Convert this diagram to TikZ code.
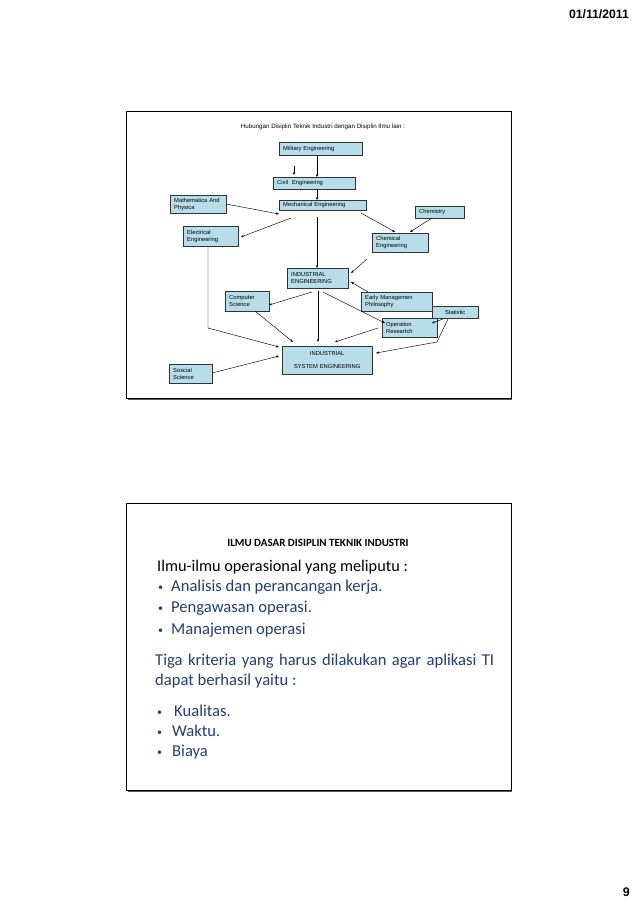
\documentclass[tikz,border=0pt]{standalone}
\usepackage{fontspec}
\setmainfont{Liberation Sans}
\newfontfamily\calfont{Carlito}
\usetikzlibrary{arrows.meta}
\definecolor{boxfill}{RGB}{183,221,232}
\definecolor{txtblue}{RGB}{36,64,110}
\definecolor{framegray}{RGB}{90,90,90}
\newcommand\bu[1]{\makebox[#1][l]{\raisebox{1pt}{\fontsize{10}{10}\selectfont\textbullet}}}
\tikzset{
  box/.style={draw=black!80, line width=0.4pt, fill=boxfill, anchor=north west,
    inner xsep=4pt, inner ysep=1pt, align=left, font=\fontsize{5.8}{7}\selectfont},
  conn/.style={draw=black, line width=0.45pt, -{Stealth[length=3pt,width=2.4pt]}},
  frame/.style={draw=black, line width=0.7pt},
  bul/.style={anchor=base west, text=txtblue, font=\calfont\fontsize{16.6}{18}\selectfont, inner sep=0pt},
}
\begin{document}
\begin{tikzpicture}[x=1pt,y=-1pt]
\useasboundingbox (0,0) rectangle (638,903);
\fill[white] (0,0) rectangle (638,903);
% header and page number
\node[anchor=east, font=\bfseries\fontsize{12.2}{14}\selectfont, inner sep=0pt] (date) at (629,14) {01/11/2011};
\node[anchor=east, font=\bfseries\fontsize{12.5}{14}\selectfont, inner sep=0pt] (page) at (630,892) {9};
% slide frames
\draw[framegray, line width=1.6pt] (127.5,399) -- (511.5,399) -- (511.5,112);
\draw[frame] (126,111) rectangle (511,398.5);
\draw[framegray, line width=1.6pt] (127.5,791) -- (511.5,791) -- (511.5,504);
\draw[frame] (126,503) rectangle (511,790.5);
% ---------- slide 1 ----------
\node[font=\fontsize{6.2}{7}\selectfont, inner sep=0pt] (title) at (323,127) {Hubungan Disiplin Teknik Industri dengan Disiplin Ilmu lain :};
\node[box, text width=75pt, minimum height=13pt] (mil) at (279,142) {Military Engineering};
\node[box, text width=74pt, minimum height=12pt] (civ) at (273,177) {Civil\ \ Engineering};
\node[box, text width=79pt, minimum height=10pt, inner ysep=0pt] (mec) at (279,200) {Mechanical Engineering};
\node[box, text width=48pt, minimum height=18pt] (mat) at (170,195) {Mathematica And\\Physica};
\node[box, text width=41pt, minimum height=12pt] (chem) at (415,206) {Chemistry};
\node[box, text width=47pt, minimum height=20pt] (ele) at (183,226) {Electrical\\Engineering};
\node[box, text width=48pt, minimum height=19pt] (chm) at (372,233) {Chemical\\Engineering};
\node[box, text width=53pt, minimum height=20pt] (ie) at (287,268) {INDUSTRIAL\\ENGINEERING};
\node[box, text width=36pt, minimum height=20pt] (cs) at (225,291) {Computer\\Science};
\node[box, text width=63pt, minimum height=19pt] (emp) at (361,292) {Early Managemen\\Philosophy};
\node[box, text width=46pt, minimum height=12pt, inner xsep=0pt, align=center] (sta) at (432,306) {Statistic};
\node[box, text width=47pt, minimum height=19pt] (opr) at (382,318) {Operation\\Researtch};
\node[box, text width=82pt, minimum height=28pt, align=center, font=\fontsize{5.8}{12.5}\selectfont] (ise) at (282,346) {INDUSTRIAL\\SYSTEM ENGINEERING};
\node[box, text width=35pt, minimum height=19pt] (soc) at (169,364) {Soscial\\Science};
% free end points
\coordinate (f1) at (294,166);
\coordinate (f2) at (294,175);
\coordinate (pmil) at (317,155);
\coordinate (pciv) at (317,177);
\coordinate (pciv2) at (317,189);
\coordinate (pmec) at (317,200);
\coordinate (pmat) at (226,204);
\coordinate (tmat) at (279,214);
\coordinate (smecl) at (291,218);
\coordinate (tele) at (241,237);
\coordinate (smecr) at (361,213);
\coordinate (tchm) at (395,232);
\coordinate (schem) at (432,218);
\coordinate (tchm2) at (410,232);
\coordinate (smecc) at (317,217);
\coordinate (tie) at (317,268);
\coordinate (schm) at (367,259);
\coordinate (tie2) at (351,273);
\coordinate (semp) at (368,292);
\coordinate (tie3) at (351,282);
\coordinate (siel) at (312,292);
\coordinate (tcs) at (269,305);
\coordinate (siec) at (318,291);
\coordinate (tise) at (318,342);
\coordinate (sier) at (323,292);
\coordinate (topr) at (385,323);
\coordinate (scs) at (255,311);
\coordinate (tise2) at (293,342);
\coordinate (ssta) at (443,319);
\coordinate (topr2) at (432,323);
\coordinate (ssta2) at (448,319);
\coordinate (bsta) at (437,342);
\coordinate (tise3) at (376,353);
\coordinate (sopr) at (378,328);
\coordinate (tise4) at (335,342);
\coordinate (sele) at (208,246);
\coordinate (bele) at (208,328);
\coordinate (tise5) at (279,347);
\coordinate (ssoc) at (212,373);
\coordinate (tise6) at (279,356);
% connectors
\draw[conn] (f1) -- (f2);
\draw[conn] (pmil) -- (pciv);
\draw[conn] (pciv2) -- (pmec);
\draw[conn] (pmat) -- (tmat);
\draw[conn] (smecl) -- (tele);
\draw[conn] (smecr) -- (tchm);
\draw[conn] (schem) -- (tchm2);
\draw[conn] (smecc) -- (tie);
\draw[conn] (schm) -- (tie2);
\draw[conn] (semp) -- (tie3);
\draw[conn] (siel) -- (tcs);
\draw[conn] (siec) -- (tise);
\draw[conn] (sier) -- (topr);
\draw[conn] (scs) -- (tise2);
\draw[conn] (ssta) -- (topr2);
\draw[conn] (ssta2) -- (bsta) -- (tise3);
\draw[conn] (sopr) -- (tise4);
\draw[conn] (sele) -- (bele) -- (tise5);
\draw[conn] (ssoc) -- (tise6);
% ---------- slide 2 ----------
\node[font=\calfont\bfseries\fontsize{11}{12}\selectfont, inner sep=0pt] (t2) at (318,543) {ILMU DASAR DISIPLIN TEKNIK INDUSTRI};
\node[anchor=base west, font=\calfont\fontsize{16.3}{18}\selectfont, inner sep=0pt] (l0) at (157,571) {Ilmu-ilmu operasional yang meliputu :};
\node[bul] (b1) at (158,591) {\bu{13pt}Analisis dan perancangan kerja.};
\node[bul] (b2) at (158,612) {\bu{13pt}Pengawasan operasi.};
\node[bul] (b3) at (158,634) {\bu{13pt}Manajemen operasi};
\node[bul] (l1) at (155,665) {\makebox[339pt][s]{Tiga kriteria yang harus dilakukan agar aplikasi TI}};
\node[bul] (l2) at (155,685) {dapat berhasil yaitu :};
\node[bul] (b4) at (157,716) {\bu{17pt}Kualitas.};
\node[bul] (b5) at (157,736) {\bu{15pt}Waktu.};
\node[bul] (b6) at (157,756) {\bu{15pt}Biaya};
\end{tikzpicture}
\end{document}
